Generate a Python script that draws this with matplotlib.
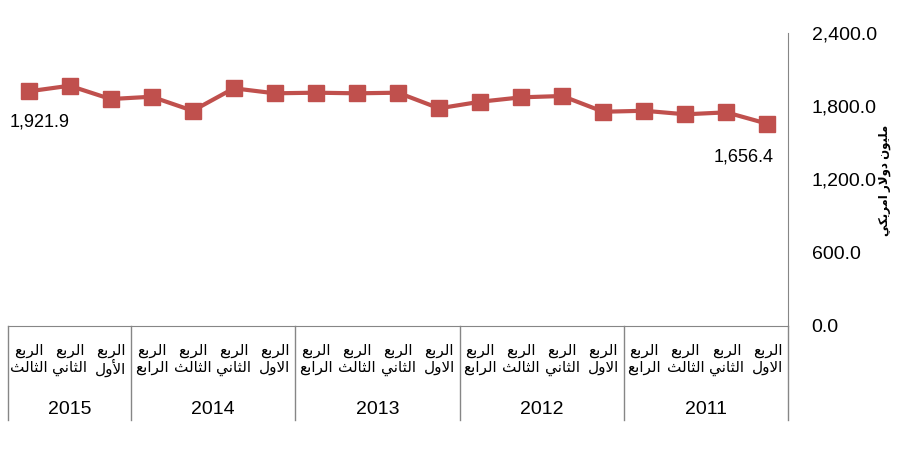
#Quarterly values chart, Arabic labels, right-to-left category axis
import matplotlib
matplotlib.use('Agg')
import matplotlib.pyplot as plt
import matplotlib.transforms as mtransforms

#Data (chronological, 2011 Q1 .. 2015 Q3)
years = ['2011', '2012', '2013', '2014', '2015']
quarters_per_year = [4, 4, 4, 4, 3]
quarter_names = ['الاول', 'الثاني', 'الثالث', 'الرابع']
quarter_names_2015 = ['الأول', 'الثاني', 'الثالث']
values = [1656.4, 1750, 1734, 1763,
          1755, 1884, 1873, 1837,
          1783, 1911, 1906, 1911,
          1906, 1947, 1763, 1878,
          1859, 1968, 1921.9]
yticks = [0, 600, 1200, 1800, 2400]
ylabel = 'مليون دولار امريكي'

#Simple Arabic shaping (matplotlib does no shaping or bidi)
forms = {
    'ا': ('\uFE8D', '\uFE8E', None, None),
    'أ': ('\uFE83', '\uFE84', None, None),
    'ب': ('\uFE8F', '\uFE90', '\uFE91', '\uFE92'),
    'ث': ('\uFE99', '\uFE9A', '\uFE9B', '\uFE9C'),
    'د': ('\uFEA9', '\uFEAA', None, None),
    'ر': ('\uFEAD', '\uFEAE', None, None),
    'ع': ('\uFEC9', '\uFECA', '\uFECB', '\uFECC'),
    'ك': ('\uFED9', '\uFEDA', '\uFEDB', '\uFEDC'),
    'ل': ('\uFEDD', '\uFEDE', '\uFEDF', '\uFEE0'),
    'م': ('\uFEE1', '\uFEE2', '\uFEE3', '\uFEE4'),
    'ن': ('\uFEE5', '\uFEE6', '\uFEE7', '\uFEE8'),
    'و': ('\uFEED', '\uFEEE', None, None),
    'ي': ('\uFEF1', '\uFEF2', '\uFEF3', '\uFEF4'),
}
lamalef = {'ا': ('\uFEFB', '\uFEFC'), 'أ': ('\uFEF7', '\uFEF8')}

def shape_word(w):
    out = []
    i = 0
    while i < len(w):
        c = w[i]
        prev = w[i-1] if i > 0 else None
        joins_prev = prev is not None and forms.get(prev, (0, 0, None))[2] is not None
        if c == 'ل' and i + 1 < len(w) and w[i+1] in lamalef:
            out.append(lamalef[w[i+1]][1 if joins_prev else 0])
            i += 2
            continue
        f = forms[c]
        nxt = w[i+1] if i + 1 < len(w) else None
        joins_next = nxt is not None and f[2] is not None
        if joins_prev and joins_next:
            out.append(f[3])
        elif joins_prev:
            out.append(f[1])
        elif joins_next:
            out.append(f[2])
        else:
            out.append(f[0])
        i += 1
    return ''.join(out)

def ar(text):
    shaped = ' '.join(shape_word(w) for w in text.split(' '))
    return shaped[::-1]

plt.rcParams['font.family'] = ['Liberation Sans', 'DejaVu Sans']

fig = plt.figure(figsize=(9, 4.49), dpi=100)
ax = fig.add_axes([8/900, 1 - 326/449, 780/900, 293/449])

x = list(range(len(values)))
red = '#C0504D'
ax.plot(x, values, color=red, linewidth=3, marker='s', markersize=12,
        markeredgecolor=red, zorder=3)

ax.set_xlim(len(values) - 0.5, -0.5)
ax.set_ylim(0, 2400)
ax.set_yticks(yticks)
ax.set_yticklabels(['{:,.1f}'.format(v) for v in yticks], fontsize=14)
ax.yaxis.tick_right()
ax.tick_params(axis='y', length=0, pad=17)
ax.set_xticks([])

for s in ['top', 'left']:
    ax.spines[s].set_visible(False)
ax.spines['right'].set_color('#868686')
ax.spines['bottom'].set_color('#868686')

#data labels on the first and last points
ax.annotate('{:,.1f}'.format(values[-1]), (x[-1], values[-1]), xytext=(8, -22),
            textcoords='offset points', ha='center', va='center', fontsize=13)
ax.annotate('{:,.1f}'.format(values[0]), (x[0], values[0]), xytext=(-17, -24),
            textcoords='offset points', ha='center', va='center', fontsize=13)

#multi-level category axis
trans = mtransforms.blended_transform_factory(ax.transData, ax.transAxes)
edge = -0.5
ax.plot([edge, edge], [0, -0.32], transform=trans, color='#868686', lw=1, clip_on=False)
i = 0
for year, n in zip(years, quarters_per_year):
    names = quarter_names_2015 if year == '2015' else quarter_names
    for q in range(n):
        ax.text(i + q, -0.085, ar('الربع'), transform=trans, ha='center', va='center',
                fontsize=11)
        ax.text(i + q, -0.143, ar(names[q]), transform=trans, ha='center', va='center',
                fontsize=11)
    ax.text(i + (n - 1) / 2, -0.285, year, transform=trans, ha='center', va='center',
            fontsize=14)
    i += n
    ax.plot([i - 0.5, i - 0.5], [0, -0.32], transform=trans, color='#868686', lw=1,
            clip_on=False)

fig.text(885/900, 1 - 180/449, ar(ylabel), rotation=90, ha='center', va='center',
         fontsize=8.5, fontweight='bold')

plt.savefig('out.png', dpi=100)
